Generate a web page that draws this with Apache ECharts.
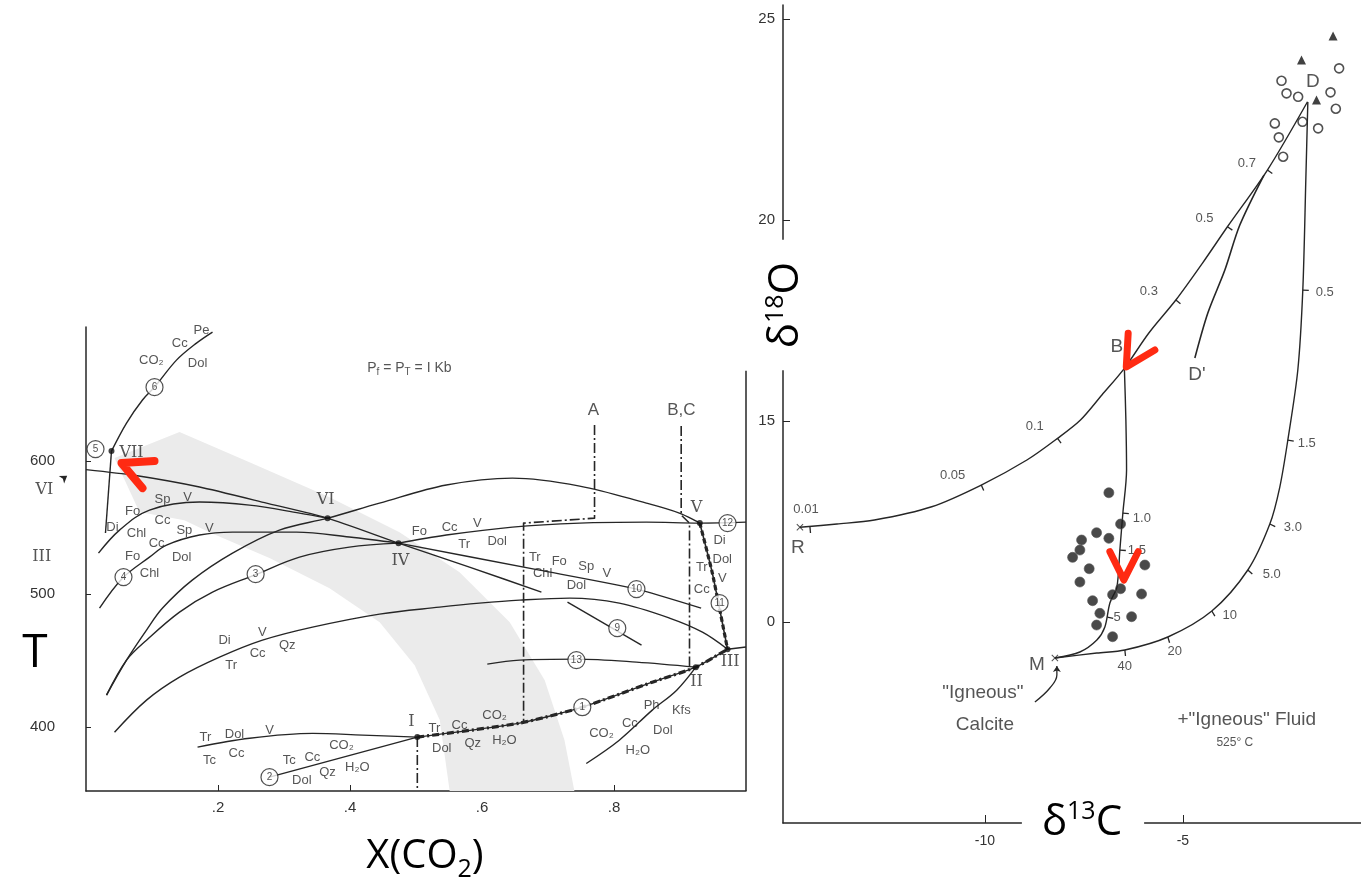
<!DOCTYPE html>
<html><head><meta charset="utf-8">
<script src="https://cdn.jsdelivr.net/npm/echarts@6/dist/echarts.min.js"></script>
<style>html,body{margin:0;padding:0;background:#fff}#c{width:1361px;height:885px}</style>
</head><body><div id="c"></div>
<script>
// ================= LEFT PANEL: X(CO2) vs T (°C), Pf = PT = 1 kb =================
const curve6      = [[0.0386,607.5],[0.0614,628.6],[0.0856,645.9],[0.1038,655.6],[0.1371,675.9],[0.1674,688.7],[0.1917,697.0]];
const lineVIIdown = [[0.0386,607.5],[0.0295,545.9]];
const lineL       = [[0,593.6],[0.0705,589.5],[0.172,580.5],[0.2735,568.4],[0.366,557.1],[0.4735,538.3],[0.581,520.3],[0.690,501.5]];
const curveSpV    = [[0.0189,530.8],[0.0508,548.1],[0.0962,563.2],[0.172,569.2],[0.2477,566.9],[0.3235,560.9],[0.366,557.1]];
const curve4      = [[0.0205,489.5],[0.0553,512.0],[0.0962,527.8],[0.122,536.8],[0.172,544.4],[0.222,546.6],[0.278,546.6],[0.319,546.6],[0.399,542.9],[0.4735,538.3]];
const curveVIV    = [[0.0311,424.1],[0.0614,450.4],[0.0917,473.0],[0.116,489.5],[0.161,510.5],[0.222,530.8],[0.293,548.1],[0.366,557.1],[0.4447,568.4],[0.546,582.0],[0.646,587.2],[0.748,581.2],[0.849,568.4],[0.899,560.9],[0.930,553.4]];
const curve3      = [[0.0311,424.1],[0.0614,450.4],[0.0917,465.4],[0.1417,486.5],[0.1917,501.5],[0.2553,514.3],[0.3235,527.8],[0.399,535.3],[0.4735,538.3]];
const curveDiTr   = [[0.0432,396.2],[0.0917,420.3],[0.1417,437.6],[0.2023,452.6],[0.2674,465.4],[0.3432,475.2],[0.4447,485.0],[0.5356,490.2],[0.596,493.2],[0.657,495.5],[0.733,497.0],[0.808,493.2],[0.884,482.0],[0.934,471.4],[0.972,458.6]];
const lineIIIaxis = [[0.972,458.6],[1.0,460.2]];
const line10      = [[0.4735,538.3],[0.687,518.0],[0.834,503.8],[0.932,489.5]];
const line12      = [[0.4735,538.3],[0.546,544.4],[0.646,550.4],[0.748,553.4],[0.849,554.1],[0.930,553.4],[1.0,554.1]];
const line11      = [[0.930,553.4],[0.949,515.8],[0.972,458.6]];
const line9       = [[0.7295,494.0],[0.8417,461.7]];
const line13      = [[0.608,447.4],[0.657,450.4],[0.743,451.1],[0.834,448.9],[0.924,445.1]];
const line1       = [[0.502,392.5],[0.657,403.0],[0.752,415.0],[0.858,433.8],[0.924,445.1],[0.972,458.6]];
const lineTrDol   = [[0.169,385.0],[0.248,391.7],[0.3436,395.3],[0.419,394.0],[0.502,392.5]];
const line2       = [[0.278,362.4],[0.502,392.5]];
const linePhKfs   = [[0.758,372.7],[0.808,390.2],[0.858,412.8],[0.895,427.8],[0.924,445.1]];
const pathA       = [[0.7705,627.1],[0.7705,557.1],[0.663,553.4],[0.663,403.8]];
const pathBC      = [[0.9018,626.3],[0.9018,559.4],[0.9144,553.4],[0.9144,445.1]];
const pathI       = [[0.502,392.5],[0.502,352]];
const rightBorder = [[1,352],[1,668]];
const bracketVI   = [[-0.019,612.0],[-0.026,612.0],[-0.026,588.0],[-0.019,588.0]];
const bracketIII  = [[-0.0129,551.9],[-0.0205,551.9],[-0.0205,500.8],[-0.0129,500.8]];
const arrowVI     = [[-0.0508,579.7],[-0.0285,589.0]];
const grayArrow   = [[0.0432,602.3],[0.1417,621.8],[0.2477,599.2],[0.369,572.9],[0.475,546.6],[0.566,516.5],[0.642,478.9],[0.695,435.3],[0.725,390.2],[0.740,352],[0.551,352],[0.536,405.3],[0.498,446.6],[0.445,478.9],[0.369,504.5],[0.278,527.1],[0.187,546.6],[0.149,555.6],[0.081,561.7]];
const nodePoints  = [[0.0386,607.5],[0.366,557.1],[0.4735,538.3],[0.930,553.4],[0.972,458.6],[0.924,445.1],[0.502,392.5]];
const circled     = [[0.0144,609.0,'5'],[0.1038,655.6,'6'],[0.0568,512.8,'4'],[0.257,515.0,'3'],[0.972,553.4,'12'],[0.834,503.8,'10'],[0.960,493.2,'11'],[0.805,474.4,'9'],[0.743,450.4,'13'],[0.752,415.0,'1'],[0.278,362.4,'2']];
const romanLabels = [[0.069,606.0,'VII'],[0.363,570.7,'VI'],[0.4765,524.8,'IV'],[0.925,564.7,'V'],[0.976,448.9,'III'],[0.925,433.8,'II'],[0.493,403.8,'I'],[-0.063,578.2,'VI'],[-0.067,527.8,'III']];
const sectionLabels = [[0.769,638.3,'A'],[0.902,638.3,'B,C']];
const mineralLabels = [
  [0.175,698.5,'Pe'],[0.142,688.7,'Cc'],[0.099,675.9,'CO₂'],[0.169,673.7,'Dol'],
  [0.0705,562.4,'Fo'],[0.116,571.4,'Sp'],[0.154,572.9,'V'],
  [0.040,550.4,'Di'],[0.0765,545.9,'Chl'],[0.116,555.6,'Cc'],[0.149,548.1,'Sp'],[0.187,549.6,'V'],
  [0.107,538.3,'Cc'],[0.0705,528.6,'Fo'],[0.145,527.8,'Dol'],[0.0962,515.8,'Chl'],
  [0.505,547.4,'Fo'],[0.551,550.4,'Cc'],[0.593,553.4,'V'],[0.573,537.6,'Tr'],[0.623,539.8,'Dol'],
  [0.680,527.8,'Tr'],[0.717,524.8,'Fo'],[0.758,521.1,'Sp'],[0.789,515.8,'V'],[0.692,515.8,'Chl'],[0.743,506.8,'Dol'],
  [0.960,540.6,'Di'],[0.964,526.3,'Dol'],[0.933,520.3,'Tr'],[0.964,512.0,'V'],[0.933,503.8,'Cc'],
  [0.210,465.4,'Di'],[0.267,471.4,'V'],[0.305,461.7,'Qz'],[0.220,446.6,'Tr'],[0.260,455.6,'Cc'],
  [0.181,392.5,'Tr'],[0.225,394.7,'Dol'],[0.278,397.7,'V'],[0.187,375.2,'Tc'],[0.228,380.5,'Cc'],
  [0.308,375.2,'Tc'],[0.343,377.4,'Cc'],[0.387,386.5,'CO₂'],[0.327,360.2,'Dol'],[0.366,366.2,'Qz'],[0.411,369.9,'H₂O'],
  [0.528,399.2,'Tr'],[0.566,401.5,'Cc'],[0.619,409.0,'CO₂'],[0.539,384.2,'Dol'],[0.586,388.0,'Qz'],[0.634,390.2,'H₂O'],
  [0.857,416.5,'Ph'],[0.902,412.8,'Kfs'],[0.824,403.0,'Cc'],[0.874,397.7,'Dol'],[0.781,395.5,'CO₂'],[0.836,382.7,'H₂O']
];
const pressureLabel = [[0.490,669.9,'P{s|f} = P{s|T} = I Kb']];
const xTicksLeft = [0.2,0.4,0.6,0.8];
const yTicksLeft = [400,500,600];
const redLeft = [[0.1038,600.0],[0.0538,598.5],[0.0856,579.7]];

// ================= RIGHT PANEL: δ13C vs δ18O =================
const rCurve     = [[-14.672,12.356],[-13.737,12.438],[-12.790,12.537],[-11.343,12.868],[-10.091,13.408],[-8.939,14.030],[-8.164,14.570],[-7.586,15.025],[-7.045,15.647],[-6.477,16.311],[-5.859,17.189],[-5.177,18.010],[-4.503,18.930],[-3.874,19.833],[-2.864,21.244],[-1.851,22.943]];
const dPrime     = [[-2.95,21.12],[-3.561,19.876],[-3.939,18.756],[-4.369,17.687],[-4.697,16.567]];
const bLine      = [[-6.477,16.311],[-6.439,15.025],[-6.422,13.781],[-6.515,12.711],[-6.591,11.791],[-6.667,10.871],[-6.843,10.473],[-6.970,9.876],[-7.172,9.552],[-7.601,9.254],[-8.232,9.104]];
const fluidCurve = [[-8.232,9.104],[-7.172,9.229],[-6.465,9.303],[-5.379,9.627],[-4.268,10.274],[-3.359,11.294],[-2.803,12.438],[-2.551,13.358],[-2.348,14.527],[-2.096,16.269],[-1.970,18.259],[-1.894,20.995],[-1.843,22.935]];
const calciteArrow = [[-8.737,8.010],[-8.359,8.358],[-8.182,8.682],[-8.182,8.905]];
const xMarks     = [[-14.672,12.356],[-8.232,9.104]];
const openCircles = [[-2.508,23.465],[-2.381,23.152],[-2.088,23.067],[-1.053,23.774],[-1.270,23.177],[-1.136,22.769],[-2.677,22.405],[-1.977,22.445],[-1.583,22.281],[-2.576,22.057],[-2.467,21.575]];
const triangles   = [[-1.205,24.577],[-2.003,23.980],[-1.624,22.985]];
const dots        = [[-6.869,13.216],[-6.573,12.438],[-7.179,12.221],[-6.869,12.082],[-7.558,12.040],[-7.601,11.791],[-7.785,11.609],[-5.960,11.418],[-7.366,11.326],[-7.601,10.995],[-6.573,10.828],[-6.775,10.679],[-6.043,10.697],[-7.280,10.530],[-7.096,10.216],[-6.295,10.132],[-7.179,9.925],[-6.775,9.634]];
const rTicks      = [[-14.419,12.363],[-10.091,13.408],[-8.164,14.570],[-5.177,18.010],[-3.874,19.833],[-2.864,21.244]];
const rTickLabels = [[-14.52,12.80,'0.01'],[-10.816,13.657,'0.05'],[-8.742,14.858,'0.1'],[-5.859,18.216,'0.3'],[-4.452,20.042,'0.5'],[-3.384,21.418,'0.7']];
const fluidTicks  = [[-6.465,9.303],[-5.379,9.627],[-4.268,10.274],[-3.359,11.294],[-2.803,12.438],[-2.348,14.527],[-1.970,18.259]];
const fluidTickLabels = [[-6.465,8.905,'40'],[-5.202,9.279,'20'],[-3.813,10.174,'10'],[-2.753,11.194,'5.0'],[-2.222,12.363,'3.0'],[-1.869,14.453,'1.5'],[-1.414,18.209,'0.5']];
const bTicks      = [[-6.515,12.711],[-6.591,11.791],[-6.907,10.124]];
const bTickLabels = [[-6.035,12.587,'1.0'],[-6.162,11.791,'1.5'],[-6.659,10.124,'5']];
const pointLabels = [[-14.722,11.841,'R'],[-6.667,16.841,'B'],[-1.717,23.433,'D'],[-4.646,16.144,"D'"],[-8.687,8.930,'M']];
const noteLabels  = [[-10.051,8.234,'"Igneous"'],[-10.0,7.438,'Calcite'],[-3.384,7.562,'+"Igneous" Fluid']];
const tempLabel   = [[-3.687,6.990,'525° C']];
const redB   = [[-6.381,17.182],[-6.429,16.343],[-5.707,16.766]];
const redLow = [[-6.843,11.749],[-6.490,11.045],[-6.129,11.749]];
const xTicksRight = [-10,-5];
const yTicksRight = [10,15,20,25];

// ================= rendering =================
const INK = '#262626';
const FONT = "'Liberation Sans', 'DejaVu Sans', Arial, sans-serif";
const RED = '#ff2a12';

function lineS(data, g, o) {
  o = o || {};
  return {
    type:'line', data:data, xAxisIndex:g, yAxisIndex:g, symbol:'none',
    smooth: o.smooth === undefined ? 0.35 : o.smooth, silent:true, clip:false,
    itemStyle:{color:o.color||INK},
    lineStyle:{color:o.color||INK, width:o.width||1.4, type:o.type||'solid', cap:o.cap||'butt', join:'round'},
    z:o.z||3
  };
}
function textS(arr, g, size, o) {
  o = o || {};
  return {
    type:'scatter', xAxisIndex:g, yAxisIndex:g, symbolSize:1, clip:false, silent:true, z:o.z||12,
    itemStyle:{color:'rgba(0,0,0,0)'},
    data: arr.map(a => ({value:[a[0],a[1]], name:a[2]})),
    label:{show:true, position:'inside', formatter:'{b}', fontSize:size, color:o.color||'#2a2a2a',
      fontFamily:o.font||FONT, fontWeight:o.weight||'normal', rich:o.rich}
  };
}
function tickS(curve, ticks, labels, dir, g) {
  return {
    type:'custom', coordinateSystem:'cartesian2d', xAxisIndex:g, yAxisIndex:g, silent:true, z:4, clip:false,
    data: ticks,
    renderItem: function(params, api) {
      const i = params.dataIndex;
      const p = api.coord(ticks[i]);
      let best = 1e18, d = [1,0];
      for (let j = 0; j < curve.length - 1; j++) {
        const a = api.coord(curve[j]), b = api.coord(curve[j+1]);
        const vx = b[0]-a[0], vy = b[1]-a[1], L2 = vx*vx+vy*vy || 1;
        let t = ((p[0]-a[0])*vx + (p[1]-a[1])*vy) / L2;
        t = Math.max(0, Math.min(1, t));
        const qx = a[0]+t*vx-p[0], qy = a[1]+t*vy-p[1], dd = qx*qx+qy*qy;
        if (dd < best) { best = dd; const L = Math.sqrt(L2); d = [vx/L, vy/L]; }
      }
      let n = [-d[1], d[0]];
      const lp = api.coord([labels[i][0], labels[i][1]]);
      const s = (n[0]*(lp[0]-p[0]) + n[1]*(lp[1]-p[1])) >= 0 ? 1 : -1;
      n = [n[0]*s*dir, n[1]*s*dir];
      return {type:'line', shape:{x1:p[0], y1:p[1], x2:p[0]+n[0]*6, y2:p[1]+n[1]*6},
              style:{stroke:INK, lineWidth:1.3}};
    }
  };
}

const chart = echarts.init(document.getElementById('c'));
const axisLineStyle = {color:INK, width:1.5};
const option = {
  animation:false,
  backgroundColor:'#fff',
  grid:[{left:86, top:327, width:660, height:464}, {left:783, top:5, width:578, height:818}],
  xAxis:[
    {gridIndex:0, type:'value', min:0, max:1, splitLine:{show:false},
     axisLine:{show:true, lineStyle:axisLineStyle},
     axisTick:{show:true, inside:true, length:6, customValues:xTicksLeft, lineStyle:{color:INK}},
     axisLabel:{customValues:xTicksLeft, formatter:v => '.' + Math.round(v*10), fontSize:15, color:'#333', margin:9, fontFamily:FONT}},
    {gridIndex:1, type:'value', min:-15.1, max:-0.5, splitLine:{show:false},
     axisLine:{show:true, onZero:false, lineStyle:axisLineStyle},
     axisTick:{show:true, inside:true, length:8, customValues:xTicksRight, lineStyle:{color:INK}},
     axisLabel:{customValues:xTicksRight, formatter:v => String(v), fontSize:14, color:'#333', margin:11, fontFamily:FONT}}
  ],
  yAxis:[
    {gridIndex:0, type:'value', min:352, max:700.8, splitLine:{show:false},
     axisLine:{show:true, lineStyle:axisLineStyle},
     axisTick:{show:true, inside:true, length:5, customValues:yTicksLeft, lineStyle:{color:INK}},
     axisLabel:{customValues:yTicksLeft, fontSize:15, color:'#333', margin:31, fontFamily:FONT}},
    {gridIndex:1, type:'value', min:5, max:25.35, splitLine:{show:false},
     axisLine:{show:true, onZero:false, lineStyle:axisLineStyle},
     axisTick:{show:true, inside:true, length:7, customValues:yTicksRight, lineStyle:{color:INK}},
     axisLabel:{customValues:yTicksRight, formatter:v => (v === 10 ? '0' : String(v)), fontSize:15, color:'#333', margin:8, fontFamily:FONT}}
  ],
  graphic:[
    {type:'text', x:35, y:654, z:100, style:{text:'T', font:'46px "Open Sans"', fill:'#000', align:'center', verticalAlign:'middle'}},
    {type:'text', x:425, y:857, z:100, style:{text:'{a|X(CO}{b|2}{a|)}', fill:'#000', align:'center', verticalAlign:'middle',
      rich:{a:{fontSize:40, fontFamily:'Open Sans', lineHeight:50, verticalAlign:'middle'}, b:{fontSize:25, fontFamily:'Open Sans', verticalAlign:'bottom', lineHeight:50}}}},
    {type:'text', x:1083, y:823, z:100, style:{text:'{a|δ}{b|13}{a|C}', fill:'#000', align:'center', verticalAlign:'middle', backgroundColor:'#fff', padding:[2,22,2,20],
      rich:{a:{fontSize:42, fontFamily:'Open Sans', lineHeight:48}, b:{fontSize:25, fontFamily:'Open Sans', verticalAlign:'top', lineHeight:48}}}},
    {type:'text', x:786, y:305, rotation:Math.PI/2, z:100, style:{text:'{a|δ}{b|18}{a|O}', fill:'#000', align:'center', verticalAlign:'middle', backgroundColor:'#fff', padding:[0,22,0,22],
      rich:{a:{fontSize:42, fontFamily:'Open Sans', lineHeight:46}, b:{fontSize:25, fontFamily:'Open Sans', verticalAlign:'top', lineHeight:46}}}}
  ],
  series:[
    // left panel
    {type:'custom', coordinateSystem:'cartesian2d', xAxisIndex:0, yAxisIndex:0, silent:true, z:1, data:[grayArrow[0]],
     renderItem:(p, api) => ({type:'polygon', shape:{points:grayArrow.map(q => api.coord(q))}, style:{fill:'#ebebeb'}})},
    lineS(curve6,0), lineS(lineVIIdown,0,{smooth:false}), lineS(lineL,0,{smooth:0.2}), lineS(curveSpV,0),
    lineS(curve4,0), lineS(curveVIV,0), lineS(curve3,0), lineS(curveDiTr,0), lineS(lineIIIaxis,0,{smooth:false}),
    lineS(line10,0,{smooth:0.2}), lineS(line12,0), lineS(line11,0,{smooth:0.2,width:1.6}), lineS(line11,0,{smooth:0.2,width:3.2,type:[5,3]}),
    lineS(line9,0,{smooth:false}), lineS(line13,0), lineS(line1,0,{smooth:0.2}), lineS(line1,0,{smooth:0.2,width:3.2,type:[7,3,2,3]}),
    lineS(lineTrDol,0), lineS(line2,0,{smooth:false}), lineS(linePhKfs,0),
    lineS(pathA,0,{smooth:false,width:1.6,type:[10,3,2,3]}), lineS(pathBC,0,{smooth:false,width:1.6,type:[10,3,2,3]}),
    lineS(pathI,0,{smooth:false,width:1.6,type:[10,3,2,3]}),
    lineS(rightBorder,0,{smooth:false,width:1.5}),
    lineS(bracketVI,0,{smooth:false,width:1.3}), lineS(bracketIII,0,{smooth:false,width:1.3}),
    Object.assign(lineS(arrowVI,0,{smooth:false,width:1.2}), {data:[arrowVI[0], {value:arrowVI[1], symbol:'arrow', symbolSize:7, symbolRotate:-55}], showSymbol:true, symbol:'none'}),
    {type:'scatter', xAxisIndex:0, yAxisIndex:0, silent:true, z:8, symbolSize:6, itemStyle:{color:'#111'}, data:nodePoints},
    {type:'scatter', xAxisIndex:0, yAxisIndex:0, silent:true, z:9, symbol:'circle', symbolSize:17,
     itemStyle:{color:'#fff', borderColor:INK, borderWidth:1.2},
     data:circled.map(c => ({value:[c[0],c[1]], name:c[2]})),
     label:{show:true, position:'inside', formatter:'{b}', fontSize:10, color:INK, fontFamily:FONT}},
    textS(mineralLabels,0,13),
    textS(romanLabels,0,16,{font:"'DejaVu Serif', 'Liberation Serif', serif"}),
    textS(sectionLabels,0,17),
    textS(pressureLabel,0,14,{rich:{s:{fontSize:10, verticalAlign:'bottom', padding:[8,0,0,0], fontFamily:FONT, color:'#2a2a2a'}}}),
    lineS(redLeft,0,{smooth:false,color:RED,width:8,cap:'round',z:20}),

    // right panel
    lineS(rCurve,1,{smooth:0.3}), lineS(dPrime,1,{smooth:0.3,width:1.6}), lineS(bLine,1,{smooth:0.3}), lineS(fluidCurve,1,{smooth:0.3}),
    Object.assign(lineS(calciteArrow,1,{smooth:0.4,width:1.3}), {data:[calciteArrow[0],calciteArrow[1],calciteArrow[2],{value:calciteArrow[3], symbol:'arrow', symbolSize:6}], showSymbol:true, symbol:'none'}),
    tickS(rCurve, rTicks, rTickLabels, -1, 1),
    tickS(fluidCurve, fluidTicks, fluidTickLabels, 1, 1),
    tickS(bLine, bTicks, bTickLabels, 1, 1),
    {type:'scatter', xAxisIndex:1, yAxisIndex:1, silent:true, z:8, symbol:'path://M0,1L1,0L10,9L9,10ZM9,0L10,1L1,10L0,9Z', symbolSize:7, itemStyle:{color:INK}, data:xMarks},
    {type:'scatter', xAxisIndex:1, yAxisIndex:1, silent:true, z:8, symbol:'circle', symbolSize:9, itemStyle:{color:'#fff', borderColor:INK, borderWidth:1.6}, data:openCircles},
    {type:'scatter', xAxisIndex:1, yAxisIndex:1, silent:true, z:8, symbol:'triangle', symbolSize:9, itemStyle:{color:'#111'}, data:triangles},
    {type:'scatter', xAxisIndex:1, yAxisIndex:1, silent:true, z:8, symbol:'circle', symbolSize:10, itemStyle:{color:'#1b1b1b', borderColor:'#555', borderWidth:0.8}, data:dots},
    textS(rTickLabels,1,13), textS(fluidTickLabels,1,13), textS(bTickLabels,1,13),
    textS(pointLabels,1,19),
    textS(noteLabels,1,19),
    textS(tempLabel,1,12),
    lineS(redB,1,{smooth:false,color:RED,width:7,cap:'round',z:20}),
    lineS(redLow,1,{smooth:false,color:RED,width:7,cap:'round',z:20})
  ]
};
chart.setOption(option);
</script>
</body></html>
